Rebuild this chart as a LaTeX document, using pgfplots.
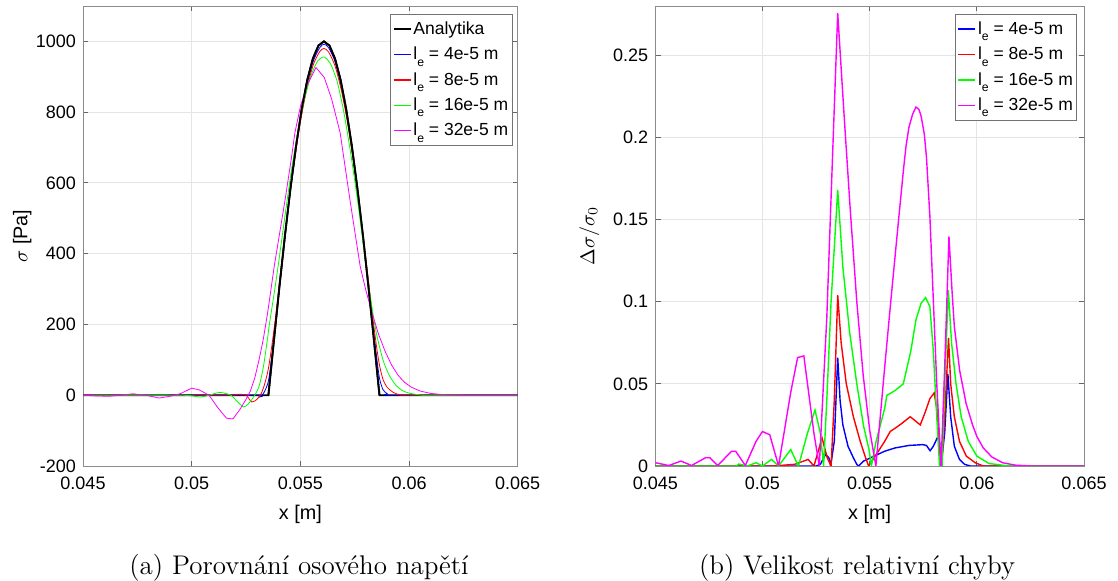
\documentclass[border=0pt]{standalone}
\usepackage{pgfplots}
\pgfplotsset{compat=1.18}
\usepackage{fontspec}
\newfontfamily\arial{Liberation Sans}
\newcommand\tickfont{\arial\fontsize{9}{10.8}\selectfont}
\newcommand\labfont{\arial\fontsize{9.9}{11.5}\selectfont}
\newcommand\legfont{\arial\fontsize{8.75}{10}\selectfont}
\newcommand\lsub{l\raisebox{-3.2pt}{\fontsize{6.1}{6.1}\selectfont e}}
\definecolor{mblue}{rgb}{0,0,1}
\definecolor{mred}{rgb}{1,0,0}
\definecolor{mgreen}{rgb}{0,1,0}
\definecolor{mmag}{rgb}{1,0,1}
\pgfplotsset{
  common/.style={
    scale only axis,
    scaled x ticks=false, scaled y ticks=false,
    axis line style={draw=black!45, line width=0.45pt},
    tick style={draw=black!60, line width=0.45pt},
    major tick length=2.6pt,
    tick align=inside,
    xtick pos=both, ytick pos=both,
    grid=major,
    major grid style={draw=black!10, line width=0.45pt},
    tick label style={font=\tickfont},
    xticklabel style={anchor=base, yshift=-12pt},
    label style={font=\labfont},
    xmin=0.045, xmax=0.065,
    xtick={0.045,0.05,0.055,0.06,0.065},
    xticklabels={0.045,0.05,0.055,0.06,0.065},
    xlabel={x [m]},
    xlabel style={at={(axis description cs:0.5,0)}, anchor=base, yshift=-27pt},
    legend cell align=left,
    legend image code/.code={\draw[##1, line width=0.75pt] (0pt,0pt) -- (8.5pt,0pt);},
    legend style={anchor=north east, draw=black!55, line width=0.45pt, fill=white,
      font=\legfont, inner sep=1pt, row sep=0pt,
      nodes={inner xsep=1pt, inner ysep=2.3pt, text height=6.6pt}},
  }
}
\begin{document}
\begin{tikzpicture}
\useasboundingbox (0,0) rectangle (559pt,290.5pt);
% ---------------- left axis ----------------
\begin{axis}[common,
  at={(41.5pt,57.5pt)}, anchor=south west,
  width=217.35pt, height=230pt,
  ymin=-200, ymax=1100,
  ytick={-200,0,200,400,600,800,1000},
  yticklabels={-200,0,200,400,600,800,1000},
  ylabel={$\sigma$ [Pa]},
  ylabel style={at={(axis description cs:-0.128,0.5)}, anchor=base},
  legend style={at={(axis description cs:0.9885,0.9826)}},
]
\addplot[black, line width=0.9pt] coordinates {
(0.045,0)(0.05353,0)(0.053786,156)(0.054041,309)(0.054297,454)(0.054552,588)(0.054808,707)(0.055063,809)(0.055319,891)(0.055574,951)(0.05583,988)(0.056085,1000)(0.056341,988)(0.056596,951)(0.056852,891)(0.057107,809)(0.057363,707)(0.057618,588)(0.057874,454)(0.058129,309)(0.058385,156)(0.05864,0)(0.065,0)};
\addlegendentry{Analytika}
\addplot[mblue, line width=0.4pt, smooth, tension=0.4] coordinates {
(0.045,0)(0.0528,0)(0.05305,-6)(0.0532,-2)(0.05335,10)(0.05353,40)(0.0537,115)(0.0539,222)(0.0541,338)(0.0544,505)(0.0547,652)(0.0550,778)(0.0553,876)(0.0556,945)(0.0559,983)(0.05609,992)(0.0563,982)(0.0566,942)(0.0569,868)(0.0572,767)(0.0575,638)(0.0578,490)(0.0581,328)(0.0583,215)(0.0585,112)(0.05864,48)(0.0588,16)(0.0590,4)(0.0592,0)(0.065,0)};
\addlegendentry{\lsub{} = 4e-5 m}
\addplot[mred, line width=0.4pt, smooth, tension=0.4] coordinates {
(0.045,0)(0.0516,0)(0.0521,3)(0.0525,0)(0.05276,-19)(0.0530,-12)(0.0532,5)(0.05335,30)(0.05353,75)(0.0537,145)(0.0539,240)(0.0541,350)(0.0544,510)(0.0547,650)(0.0550,772)(0.0553,866)(0.0556,935)(0.0559,972)(0.05609,980)(0.0563,970)(0.0566,930)(0.0569,858)(0.0572,760)(0.0575,635)(0.0578,492)(0.0581,340)(0.0583,235)(0.0585,140)(0.05864,85)(0.0588,45)(0.0590,22)(0.0593,7)(0.0596,1)(0.0600,0)(0.065,0)};
\addlegendentry{\lsub{} = 8e-5 m}
\addplot[mgreen, line width=0.4pt, smooth, tension=0.4] coordinates {
(0.045,0)(0.0495,0)(0.0504,-5)(0.0508,0)(0.0513,8)(0.0518,0)(0.0521,-18)(0.05238,-33)(0.0526,-25)(0.0529,0)(0.0531,25)(0.0533,80)(0.0535,165)(0.05357,198)(0.0538,290)(0.0540,375)(0.0543,510)(0.0546,640)(0.0549,750)(0.0552,840)(0.0555,905)(0.0558,945)(0.0561,956)(0.0564,935)(0.0567,885)(0.0570,800)(0.0573,690)(0.0576,565)(0.0579,425)(0.0582,285)(0.0585,175)(0.0588,100)(0.0591,55)(0.0594,28)(0.0597,13)(0.0600,6)(0.0605,1)(0.0610,0)(0.065,0)};
\addlegendentry{\lsub{} = 16e-5 m}
\addplot[mmag, line width=0.4pt] coordinates {
(0.045,0)(0.0456,-2)(0.0462,-3)(0.0467,0)(0.0473,4)(0.0479,0)(0.0485,-8)(0.0491,-2)(0.0495,5)(0.0500,20)(0.05035,15)(0.0508,0)(0.0512,-35)(0.0516,-65)(0.0519,-67)(0.0522,-42)(0.0525,-12)(0.0527,12)(0.0529,48)(0.0531,100)(0.0533,160)(0.0535,235)(0.0538,365)(0.0540,440)(0.0543,553)(0.0546,675)(0.05475,742)(0.0550,815)(0.0553,875)(0.05572,926)(0.0561,898)(0.05644,837)(0.05683,742)(0.05728,553)(0.05775,365)(0.0580,300)(0.0583,232)(0.0586,172)(0.0589,124)(0.0592,85)(0.0595,56)(0.0598,36)(0.0601,23)(0.0605,12)(0.0610,5)(0.0615,2)(0.0620,0.5)(0.0630,0)(0.065,0)};
\addlegendentry{\lsub{} = 32e-5 m}
\addplot[black, line width=0.9pt, forget plot] coordinates {
(0.05353,0)(0.053786,156)(0.054041,309)(0.054297,454)(0.054552,588)(0.054808,707)(0.055063,809)(0.055319,891)(0.055574,951)(0.05583,988)(0.056085,1000)(0.056341,988)(0.056596,951)(0.056852,891)(0.057107,809)(0.057363,707)(0.057618,588)(0.057874,454)(0.058129,309)(0.058385,156)(0.05864,0)};
\end{axis}
% ---------------- right axis ----------------
\begin{axis}[common,
  at={(327.65pt,57.5pt)}, anchor=south west,
  width=214.35pt, height=230pt,
  ymin=0, ymax=0.28,
  ytick={0,0.05,0.1,0.15,0.2,0.25},
  yticklabels={0,0.05,0.1,0.15,0.2,0.25},
  ylabel={$\Delta\sigma/\sigma_0$},
  ylabel style={at={(axis description cs:-0.142,0.5)}, anchor=base},
  legend style={at={(axis description cs:0.9844,0.9826)}},
]
\addplot[mblue, line width=0.7pt] coordinates {
(0.045,0)(0.0525,0)(0.0527,0.001)(0.05294,0.007)(0.0531,0.005)(0.05318,0)(0.05335,0.015)(0.05351,0.066)(0.05362,0.04)(0.05375,0.025)(0.05399,0.012)(0.05424,0.005)(0.0544,0.001)(0.05448,0)(0.05472,0.003)(0.05521,0.006)(0.0557,0.009)(0.05619,0.011)(0.05683,0.0125)(0.05748,0.013)(0.05765,0.0125)(0.05782,0.0093)(0.05797,0.012)(0.05815,0.017)(0.05825,0.016)(0.05833,0)(0.0585,0.02)(0.05865,0.056)(0.05878,0.03)(0.05895,0.012)(0.05919,0.004)(0.05943,0.001)(0.0597,0)(0.065,0)};
\addlegendentry{\lsub{} = 4e-5 m}
\addplot[mred, line width=0.7pt] coordinates {
(0.045,0)(0.0505,0)(0.0515,0.001)(0.05213,0.004)(0.0524,0)(0.05278,0.017)(0.05302,0.005)(0.0532,0)(0.05335,0.04)(0.05351,0.104)(0.05367,0.075)(0.05391,0.05)(0.05424,0.03)(0.05456,0.015)(0.05481,0.005)(0.05495,0)(0.05521,0.005)(0.0557,0.015)(0.05596,0.021)(0.05619,0.023)(0.05651,0.026)(0.05689,0.030)(0.05708,0.028)(0.05736,0.025)(0.05757,0.032)(0.05781,0.041)(0.05801,0.0445)(0.05813,0.035)(0.05826,0.01)(0.05836,0)(0.0585,0.03)(0.05868,0.078)(0.05878,0.05)(0.05895,0.03)(0.05919,0.015)(0.05951,0.006)(0.05992,0.002)(0.0603,0)(0.065,0)};
\addlegendentry{\lsub{} = 8e-5 m}
\addplot[mgreen, line width=0.7pt] coordinates {
(0.045,0)(0.0488,0)(0.04888,0.0012)(0.0493,0)(0.0497,0.002)(0.0500,0)(0.05042,0.004)(0.05075,0)(0.05132,0.010)(0.0516,0.002)(0.05168,0)(0.0521,0.02)(0.05245,0.034)(0.0527,0.02)(0.05285,0)(0.0530,0.04)(0.0532,0.10)(0.05351,0.168)(0.05375,0.121)(0.05407,0.081)(0.0544,0.05)(0.05472,0.024)(0.05497,0.01)(0.05508,0)(0.0553,0.015)(0.0557,0.035)(0.0558,0.043)(0.05594,0.044)(0.05619,0.046)(0.05657,0.050)(0.05692,0.07)(0.05716,0.089)(0.0574,0.099)(0.05761,0.1025)(0.05781,0.097)(0.05797,0.07)(0.05813,0.03)(0.05826,0)(0.05838,0)(0.0585,0.05)(0.05867,0.107)(0.05882,0.075)(0.05903,0.05)(0.05927,0.03)(0.0596,0.015)(0.0600,0.006)(0.06057,0.0015)(0.06138,0.0002)(0.062,0)(0.065,0)};
\addlegendentry{\lsub{} = 16e-5 m}
\addplot[mmag, line width=0.7pt] coordinates {
(0.045,0.002)(0.04563,0.0003)(0.0462,0.003)(0.04669,0.0003)(0.04734,0.005)(0.04755,0.005)(0.04791,0.0003)(0.04856,0.009)(0.04875,0.009)(0.0492,0.0003)(0.0497,0.015)(0.0500,0.021)(0.05034,0.019)(0.05075,0)(0.05132,0.045)(0.05164,0.066)(0.05193,0.067)(0.0521,0.05)(0.0524,0.02)(0.05265,0)(0.0530,0.09)(0.0533,0.20)(0.05351,0.2757)(0.0538,0.215)(0.0541,0.155)(0.0544,0.10)(0.0547,0.055)(0.0550,0.022)(0.05529,0)(0.0557,0.06)(0.05602,0.105)(0.05635,0.15)(0.05659,0.182)(0.0567,0.195)(0.05683,0.206)(0.0570,0.214)(0.05716,0.2185)(0.0573,0.217)(0.0574,0.213)(0.05755,0.202)(0.05765,0.188)(0.05781,0.152)(0.05797,0.101)(0.05813,0.05)(0.05833,0)(0.0585,0.06)(0.0587,0.1397)(0.05885,0.105)(0.05895,0.085)(0.0592,0.058)(0.0595,0.038)(0.0598,0.025)(0.0600,0.018)(0.0603,0.011)(0.0607,0.0055)(0.0612,0.002)(0.0618,0.0005)(0.0625,0)(0.065,0)};
\addlegendentry{\lsub{} = 32e-5 m}
\end{axis}
\node[anchor=base, font=\fontsize{13.5}{16}\selectfont] at (149.5pt,3.2pt) {(a) Porovnání osového napětí};
\node[anchor=base, font=\fontsize{13.5}{16}\selectfont] at (428.5pt,3.2pt) {(b) Velikost relativní chyby};
\end{tikzpicture}
\end{document}
